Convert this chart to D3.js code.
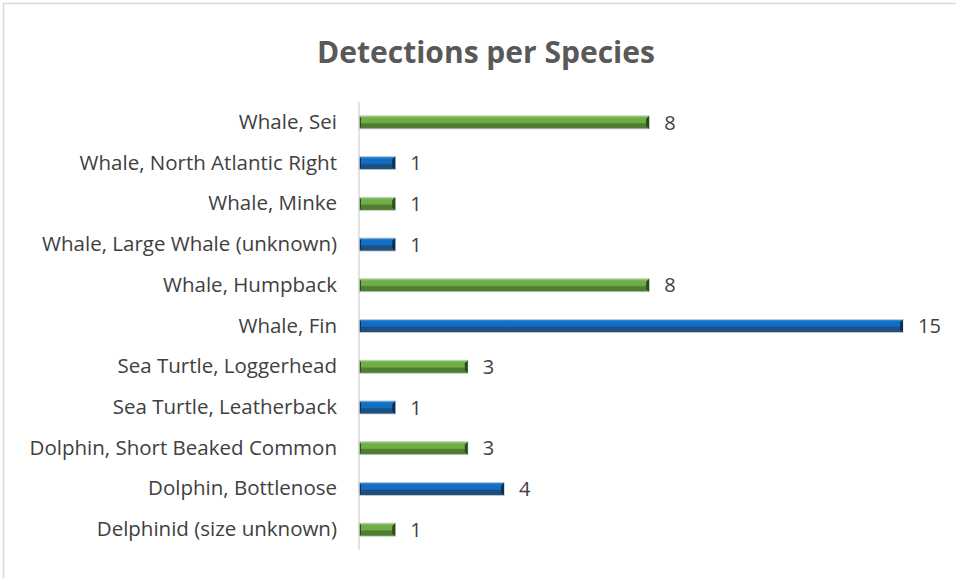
<!DOCTYPE html>
<meta charset="utf-8">
<style>
body{margin:0;background:#fff;}
svg text{font-family: "Open Sans", sans-serif;}
</style>
<svg id="chart" width="956" height="578"></svg>
<script src="https://d3js.org/d3.v7.min.js"></script>
<script>
// species, top to bottom as drawn
const species = [
  'Whale, Sei',
  'Whale, North Atlantic Right',
  'Whale, Minke',
  'Whale, Large Whale (unknown)',
  'Whale, Humpback',
  'Whale, Fin',
  'Sea Turtle, Loggerhead',
  'Sea Turtle, Leatherback',
  'Dolphin, Short Beaked Common',
  'Dolphin, Bottlenose',
  'Delphinid (size unknown)'
]
const detections = [8, 1, 1, 1, 8, 15, 3, 1, 3, 4, 1]
const chartTitle = 'Detections per Species'

const svg = d3.select('#chart')
const W = 956, H = 578

// chart area border (light gray, bottom/right cut off like the original)
svg.append('rect')
  .attr('x', 3.5).attr('y', 3.5)
  .attr('width', W + 10).attr('height', H + 10)
  .attr('fill', 'none').attr('stroke', '#d9d9d9').attr('stroke-width', 1.5)

svg.append('text')
  .attr('x', 486).attr('y', 63)
  .attr('text-anchor', 'middle')
  .style('font-size', '30px').style('font-weight', 'bold')
  .attr('fill', '#595959')
  .text(chartTitle)

const x = d3.scaleLinear().domain([0, 15]).range([359, 903])
const y = d3.scaleBand().domain(species).range([102, 550]).paddingInner(0.68).paddingOuter(0.34)

const blue = {light: '#3a8fdc', base: '#0f6fc6', dark: '#1d4f7f', end: '#0f2f4f'}
const green = {light: '#8fcb66', base: '#70ad47', dark: '#4f7e31', end: '#2c4a1a'}

// bevel gradients
const defs = svg.append('defs')
;[['gBlue', blue], ['gGreen', green]].forEach(([id, c]) => {
  const g = defs.append('linearGradient').attr('id', id)
    .attr('x1', 0).attr('y1', 0).attr('x2', 0).attr('y2', 1)
  g.append('stop').attr('offset', '0%').attr('stop-color', c.light)
  g.append('stop').attr('offset', '20%').attr('stop-color', c.base)
  g.append('stop').attr('offset', '50%').attr('stop-color', c.base)
  g.append('stop').attr('offset', '62%').attr('stop-color', c.dark)
  g.append('stop').attr('offset', '100%').attr('stop-color', c.dark)
})

const colorOf = i => i % 2 === 0 ? green : blue

const bars = svg.selectAll('g.bar').data(species).join('g').attr('class', 'bar')

bars.append('rect')
  .attr('x', x(0))
  .attr('y', d => y(d))
  .attr('width', (d, i) => x(detections[i]) - x(0))
  .attr('height', y.bandwidth())
  .attr('fill', (d, i) => i % 2 === 0 ? 'url(#gGreen)' : 'url(#gBlue)')
  .attr('stroke', '#c9ccd0').attr('stroke-width', 0.8)

// darker bevelled end caps
bars.append('path')
  .attr('d', (d, i) => {
    const x1 = x(detections[i]), y0 = y(d), h = y.bandwidth(), b = 3
    return `M${x1},${y0} L${x1},${y0 + h} L${x1 - b},${y0 + h - b} L${x1 - b},${y0 + b} Z`
  })
  .attr('fill', (d, i) => colorOf(i).end)
bars.append('path')
  .attr('d', d => {
    const x0 = x(0), y0 = y(d), h = y.bandwidth(), b = 2
    return `M${x0},${y0} L${x0},${y0 + h} L${x0 + b},${y0 + h - b} L${x0 + b},${y0 + b} Z`
  })
  .attr('fill', (d, i) => colorOf(i).end)

// value labels
bars.append('text')
  .attr('x', (d, i) => x(detections[i]) + 15)
  .attr('y', d => y(d) + y.bandwidth() / 2)
  .attr('dy', '0.36em')
  .style('font-size', '20px')
  .attr('fill', '#404040')
  .text((d, i) => detections[i])

// category axis
const yAxis = svg.append('g')
  .attr('transform', `translate(${x(0)},0)`)
  .call(d3.axisLeft(y).tickSize(0).tickPadding(22))
yAxis.select('.domain').attr('stroke', '#d9d9d9').attr('stroke-width', 1.5)
  .attr('d', `M0,102V550`)
yAxis.selectAll('text')
  .style('font-size', '20.5px')
  .attr('fill', '#404040')
</script>
